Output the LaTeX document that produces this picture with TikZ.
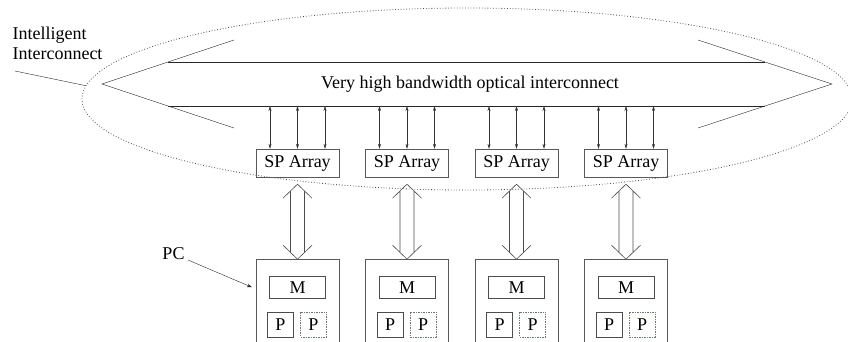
\documentclass[tikz,border=0pt]{standalone}
\usepackage{fontspec}
\setmainfont{Liberation Serif}
\usetikzlibrary{arrows.meta,positioning,calc,shapes.geometric}

\definecolor{sparegray}{rgb}{0.42,0.48,0.42}
\tikzset{
  txt/.style={font=\fontsize{18}{20}\selectfont},
  spbox/.style={txt,draw=black!65,minimum width=83pt,minimum height=28pt,inner sep=0pt},
  pcbox/.style={draw=black!65,minimum width=83pt,minimum height=110pt,inner sep=0pt},
  mbox/.style={txt,draw=black!70,minimum width=56pt,minimum height=22pt,inner sep=0pt},
  pbox/.style={txt,draw=black!70,minimum width=26pt,minimum height=25pt,inner sep=0pt},
  spare/.style={pbox,draw=sparegray,dash pattern=on 1.5pt off 1pt},
  linkarr/.style={draw=black!80,{Stealth[length=5pt,width=3pt]}-{Stealth[length=5pt,width=3pt]}},
  bigarr/.style={draw=black!70,line width=0.6pt},
}

\begin{document}
\begin{tikzpicture}[x=1pt,y=-1pt,>=Stealth]
  \useasboundingbox (0,0) rectangle (848,341);

  % Intelligent interconnect boundary
  \node[ellipse,draw=black!70,dotted,line width=0.8pt,minimum width=770pt,minimum height=182pt,inner sep=0pt] (ring) at (467,99) {};
  \node[txt,align=left,anchor=west] (iclabel) at (9,43) {Intelligent\\Interconnect};
  \coordinate (icfoot) at (15,71);
  \draw[black!85] (icfoot) -- (ring.178);

  % Optical bus
  \draw[black!85] (234,40) -- (102,84) -- (234,128);
  \draw[black!85] (698,40) -- (832,84) -- (698,128);
  \draw[black!85] (168,62) -- (765,62);
  \draw[black!85] (168,106) -- (765,106);
  \coordinate (busbot) at (467,106);
  \node[txt] (bus) at (470,84) {Very high bandwidth optical interconnect};

  % SP arrays and PCs
  \foreach \i in {1,...,4} {
    \node[spbox] (sp\i) at ({297.5+109.5*(\i-1)},163) {SP Array};
    \foreach \d in {-27.5,0,27.5} {
      \path (sp\i.north) ++(\d,0) coordinate (lo);
      \draw[linkarr] (lo) -- (lo |- busbot);
    }
    \node[pcbox,below=82pt of sp\i.south,anchor=north] (pc\i) {};
    \node[mbox,below=17pt of pc\i.north] (m\i) {M};
    \node[pbox,below=13pt of m\i.south,xshift=-17pt] (pa\i) {P};
    \node[spare,below=13pt of m\i.south,xshift=16pt] (pb\i) {P};
    % hollow double arrow
    \coordinate (tt) at ([yshift=-7pt]sp\i.south);
    \coordinate (bt) at (pc\i.north);
    \draw[bigarr] ($(tt)+(-14.5,14)$) -- (tt) -- ($(tt)+(14.5,14)$)
      ($(tt)+(-7,6.8)$) -- ($(bt)+(-7,-6.8)$)
      ($(tt)+(7,6.8)$) -- ($(bt)+(7,-6.8)$)
      ($(bt)+(-14.5,-14)$) -- (bt) -- ($(bt)+(14.5,-14)$);
  }

  % PC label
  \node[txt] (pclabel) at (173.5,254) {PC};
  \draw[->,black!85] ([yshift=-6pt]pclabel.east) -- ($(pc1.north west)+(-4,28)$);
\end{tikzpicture}
\end{document}
